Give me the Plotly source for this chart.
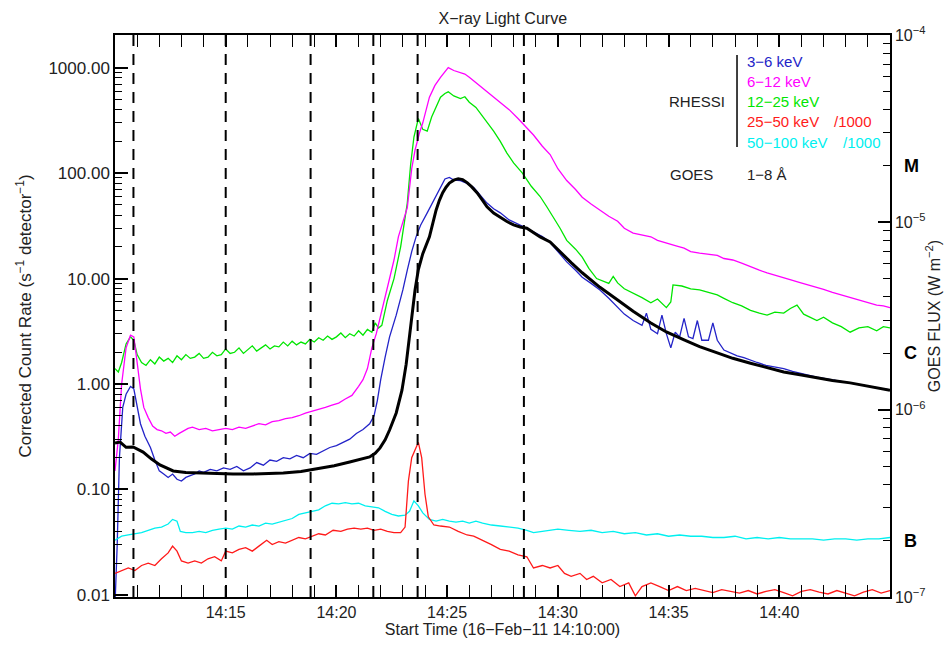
import math
import pandas as pd
import plotly.graph_objects as go

# ---------------- data (minutes after 14:10:00, values) ----------------
START = "2011-02-16 14:10:00"
END = "2011-02-16 14:45:00"

t_blue = [0.0, 0.1, 0.2, 0.35, 0.5, 0.7, 0.85, 1.0, 1.15, 1.35, 1.6, 1.8, 2.0, 2.2, 2.4, 2.6, 2.8, 3.0, 3.2, 3.4,
          3.6, 3.8, 4.0, 4.3, 4.6, 4.9, 5.2, 5.5, 5.8, 6.1, 6.4, 6.7, 7.0, 7.3, 7.6, 7.9, 8.2, 8.5, 8.8, 9.1,
          9.4, 9.7, 10.0, 10.3, 10.6, 10.9, 11.2, 11.5, 11.7, 11.85, 12.0, 12.2, 12.4, 12.7, 13.0, 13.2, 13.4,
          13.6, 13.8, 14.1, 14.4, 14.7, 14.9, 15.1, 15.3, 15.6, 15.9, 16.2, 16.5, 16.8, 17.1, 17.4, 17.8, 18.2,
          18.6, 19.0, 19.3, 19.65, 20.0, 20.4, 20.8, 21.1, 21.5, 21.9, 22.3, 22.7, 23.0, 23.4, 23.8, 24.0, 24.2,
          24.5, 24.7, 24.9, 25.1, 25.3, 25.5, 25.7, 25.9, 26.1, 26.3, 26.5, 26.8, 27.0, 27.2, 27.5, 27.8, 28.1,
          28.4, 28.7, 29.0, 29.4, 29.8, 30.2, 30.6, 31.0, 31.4, 31.7, 32.1, 32.5, 32.9, 33.2, 33.6, 34.0, 34.4,
          34.7, 35.0]
v_blue = [0.008, 0.03, 0.2, 0.6, 0.8, 0.95, 0.9, 0.6, 0.42, 0.32, 0.25, 0.19, 0.15, 0.14, 0.13, 0.14, 0.125, 0.12,
          0.13, 0.135, 0.14, 0.15, 0.145, 0.155, 0.15, 0.16, 0.155, 0.165, 0.15, 0.16, 0.18, 0.17, 0.19, 0.185,
          0.2, 0.195, 0.21, 0.2, 0.22, 0.215, 0.23, 0.25, 0.26, 0.28, 0.3, 0.34, 0.37, 0.42, 0.5, 0.7, 1.1, 1.8,
          2.8, 4.5, 7.8, 12, 18, 25, 32, 42, 55, 72, 88, 91, 86, 85, 80, 73, 62, 52, 46, 42, 36, 33, 30, 27, 25,
          22, 18, 14.4, 12, 10.3, 9, 7.8, 6.5, 5.3, 4.6, 4.0, 3.6, 4.7, 3.3, 3.0, 4.5, 3.0, 2.2, 3.1, 2.8, 4.2,
          2.8, 2.7, 4.0, 2.6, 2.6, 3.8, 2.6, 2.1, 1.97, 1.85, 1.78, 1.7, 1.6, 1.5, 1.45, 1.4, 1.32, 1.25, 1.2,
          1.16, 1.12, 1.08, 1.04, 1.02, 0.98, 0.95, 0.92, 0.9, 0.88]

t_mag = [0.0, 0.15, 0.3, 0.5, 0.7, 0.85, 1.0, 1.15, 1.3, 1.5, 1.7, 1.9, 2.1, 2.3, 2.5, 2.7, 2.9, 3.1, 3.3, 3.5,
         3.8, 4.1, 4.4, 4.7, 5.0, 5.3, 5.6, 5.9, 6.2, 6.5, 6.8, 7.1, 7.4, 7.7, 8.0, 8.3, 8.6, 8.9, 9.2, 9.5,
         9.8, 10.1, 10.4, 10.7, 11.0, 11.2, 11.4, 11.6, 11.8, 12.0, 12.25, 12.6, 12.8, 13.0, 13.2, 13.4, 13.55,
         13.75, 13.9, 14.2, 14.45, 14.7, 14.9, 15.05, 15.3, 15.6, 15.8, 16.0, 16.3, 16.6, 17.0, 17.4, 17.8,
         18.2, 18.6, 18.9, 19.3, 19.65, 20.0, 20.4, 20.8, 21.1, 21.5, 21.9, 22.3, 22.7, 23.0, 23.4, 23.8, 24.2,
         24.5, 24.9, 25.3, 25.7, 26.0, 26.4, 26.8, 27.2, 27.5, 27.9, 28.3, 28.7, 29.1, 29.45, 29.8, 30.2, 30.6,
         30.9, 31.3, 31.7, 32.0, 32.4, 32.8, 33.2, 33.6, 34.0, 34.4, 34.7, 35.0]
v_mag = [0.15, 0.3, 1.0, 2.2, 2.9, 2.8, 1.6, 0.9, 0.6, 0.48, 0.4, 0.37, 0.36, 0.34, 0.35, 0.32, 0.34, 0.36, 0.38,
         0.39, 0.37, 0.38, 0.36, 0.37, 0.38, 0.37, 0.39, 0.38, 0.4, 0.42, 0.41, 0.44, 0.45, 0.47, 0.48, 0.5,
         0.53, 0.55, 0.57, 0.6, 0.63, 0.66, 0.72, 0.78, 0.95, 1.1, 1.4, 2.2, 3.0, 4.5, 7.8, 15, 25, 35, 47,
         110, 165, 240, 300, 525, 680, 810, 920, 1000, 940, 900, 870, 810, 720, 640, 550, 470, 400, 330, 270,
         230, 180, 150, 110, 85, 70, 59, 51, 44.6, 39, 35, 30, 27, 26, 24.9, 23, 21.6, 20.5, 19.4, 18, 17.4,
         17, 16.6, 15.5, 15, 14, 12.9, 12, 11.3, 10.7, 10.1, 9.6, 9.2, 8.7, 8.3, 7.9, 7.4, 7.0, 6.6, 6.2, 5.9,
         5.6, 5.5, 5.3]

t_green = [0.0, 0.15, 0.3, 0.5, 0.7, 0.85, 1.0, 1.2, 1.4, 1.6, 1.8, 2.0, 2.2, 2.4, 2.6, 2.8, 3.0, 3.2, 3.4, 3.6,
           3.8, 4.0, 4.2, 4.4, 4.6, 4.8, 5.0, 5.2, 5.4, 5.6, 5.8, 6.0, 6.2, 6.4, 6.6, 6.8, 7.0, 7.2, 7.4, 7.6,
           7.8, 8.0, 8.2, 8.4, 8.6, 8.8, 9.0, 9.2, 9.4, 9.6, 9.8, 10.0, 10.2, 10.4, 10.6, 10.8, 11.0, 11.2,
           11.4, 11.6, 11.75, 11.9, 12.05, 12.3, 12.6, 12.9, 13.2, 13.35, 13.5, 13.7, 13.9, 14.1, 14.3, 14.5,
           14.7, 14.9, 15.05, 15.3, 15.6, 15.8, 16.0, 16.3, 16.5, 16.8, 17.1, 17.4, 17.7, 18.0, 18.4, 18.8,
           19.2, 19.5, 19.8, 20.1, 20.4, 20.8, 21.1, 21.4, 21.75, 22.0, 22.3, 22.5, 22.7, 23.0, 23.4, 23.8,
           24.2, 24.5, 24.9, 25.1, 25.2, 25.6, 26.0, 26.4, 26.8, 27.2, 27.5, 27.9, 28.3, 28.7, 29.1, 29.45,
           29.8, 30.2, 30.5, 30.8, 31.1, 31.4, 31.7, 32.0, 32.4, 32.8, 33.2, 33.6, 34.0, 34.4, 34.7, 35.0]
v_green = [1.4, 1.3, 1.6, 2.4, 2.8, 2.6, 1.9, 1.6, 1.5, 1.7, 1.55, 1.8, 1.65, 1.75, 1.6, 1.85, 1.7, 1.9, 1.75,
           1.8, 1.95, 1.75, 1.8, 2.0, 1.85, 1.9, 2.15, 1.95, 2.0, 2.2, 1.95, 2.1, 2.3, 2.05, 2.2, 2.35, 2.15,
           2.3, 2.25, 2.5, 2.3, 2.55, 2.35, 2.5, 2.4, 2.65, 2.5, 2.75, 2.6, 2.85, 2.65, 2.8, 3.05, 2.75, 3.0,
           2.85, 3.2, 2.9, 3.3, 3.1, 3.8, 3.4, 3.6, 6.2, 10, 20, 52, 120, 220, 330, 260, 250, 340, 430, 525, 570,
           590, 540, 510, 530, 470, 420, 370, 310, 250, 200, 155, 125, 100, 75, 60, 48, 38, 30, 23, 19, 16,
           12.5, 10, 9.5, 9.0, 10.5, 9.1, 8.0, 7.3, 6.6, 5.9, 6.4, 5.3, 6.0, 8.7, 8.5, 8.0, 7.8, 7.4, 7.0, 6.5,
           5.9, 5.5, 5.0, 4.7, 4.5, 4.8, 4.7, 5.2, 5.6, 4.6, 4.3, 4.0, 4.3, 3.8, 3.5, 3.1, 3.4, 3.5, 3.2, 3.5,
           3.4]

t_red = [0.0, 0.3, 0.6, 0.9, 1.2, 1.5, 1.8, 2.1, 2.4, 2.6, 2.8, 3.0, 3.3, 3.6, 3.9, 4.2, 4.5, 4.8, 5.0, 5.3,
         5.6, 5.9, 6.2, 6.5, 6.85, 7.1, 7.4, 7.7, 8.0, 8.3, 8.6, 8.9, 9.2, 9.5, 9.85, 10.2, 10.5, 10.8, 11.1,
         11.4, 11.7, 12.0, 12.3, 12.6, 12.9, 13.1, 13.25, 13.4, 13.55, 13.7, 13.85, 14.0, 14.15, 14.4, 14.7,
         15.1, 15.5, 15.9, 16.2, 16.6, 17.0, 17.4, 17.8, 18.2, 18.6, 18.9, 19.3, 19.65, 20.0, 20.3, 20.6,
         21.0, 21.3, 21.6, 22.0, 22.4, 22.8, 23.2, 23.5, 23.8, 24.2, 24.6, 25.0, 25.4, 25.8, 26.2, 26.6,
         27.0, 27.4, 27.8, 28.2, 28.6, 29.0, 29.4, 29.8, 30.2, 30.6, 31.0, 31.4, 31.8, 32.2, 32.6, 33.0,
         33.4, 33.8, 34.2, 34.6, 35.0]
v_red = [0.016, 0.017, 0.018, 0.017, 0.019, 0.02, 0.019, 0.022, 0.025, 0.029, 0.026, 0.021, 0.02, 0.021, 0.02,
         0.022, 0.023, 0.021, 0.026, 0.025, 0.027, 0.028, 0.026, 0.029, 0.033, 0.03, 0.032, 0.031, 0.033,
         0.035, 0.034, 0.036, 0.038, 0.037, 0.041, 0.04, 0.042, 0.043, 0.042, 0.043, 0.041, 0.042, 0.04,
         0.039, 0.039, 0.044, 0.12, 0.2, 0.24, 0.28, 0.2, 0.09, 0.055, 0.046, 0.045, 0.044, 0.04, 0.037,
         0.036, 0.033, 0.03, 0.027, 0.026, 0.024, 0.023, 0.018, 0.019, 0.018, 0.019, 0.016, 0.015, 0.016,
         0.014, 0.015, 0.013, 0.014, 0.012, 0.013, 0.0098, 0.012, 0.013, 0.012, 0.011, 0.012, 0.011, 0.0115,
         0.011, 0.0105, 0.0112, 0.0108, 0.0104, 0.011, 0.0102, 0.0108, 0.0112, 0.0105, 0.0098, 0.0108,
         0.0112, 0.0106, 0.0102, 0.011, 0.0104, 0.0098, 0.0106, 0.0112, 0.0104, 0.011]

t_cyan = [0.0, 0.3, 0.6, 0.9, 1.2, 1.5, 1.8, 2.1, 2.4, 2.6, 2.8, 2.95, 3.2, 3.5, 3.8, 4.1, 4.4, 4.7, 5.0, 5.3,
          5.6, 5.9, 6.2, 6.5, 6.8, 7.1, 7.4, 7.7, 8.0, 8.3, 8.6, 8.9, 9.2, 9.5, 9.8, 10.1, 10.4, 10.7, 11.0,
          11.3, 11.6, 11.9, 12.2, 12.5, 12.8, 13.1, 13.3, 13.5, 13.7, 13.9, 14.2, 14.5, 14.8, 15.1, 15.4, 15.7,
          16.0, 16.3, 16.6, 17.0, 17.4, 17.8, 18.2, 18.6, 18.9, 19.3, 19.65, 20.0, 20.5, 21.0, 21.5, 22.0,
          22.5, 23.0, 23.5, 24.0, 24.5, 25.0, 25.5, 26.0, 26.5, 27.0, 27.5, 28.0, 28.5, 29.0, 29.5, 30.0,
          30.5, 31.0, 31.5, 32.0, 32.5, 33.0, 33.5, 34.0, 34.5, 35.0]
v_cyan = [0.033, 0.036, 0.037, 0.038, 0.039, 0.041, 0.043, 0.044, 0.047, 0.052, 0.05, 0.04, 0.039, 0.039, 0.04,
          0.039, 0.041, 0.042, 0.043, 0.042, 0.045, 0.044, 0.046, 0.045, 0.048, 0.047, 0.049, 0.051, 0.053,
          0.058, 0.06, 0.062, 0.064, 0.07, 0.074, 0.073, 0.075, 0.073, 0.074, 0.07, 0.068, 0.067, 0.062,
          0.058, 0.056, 0.057, 0.062, 0.078, 0.07, 0.06, 0.052, 0.05, 0.052, 0.05, 0.049, 0.05, 0.048, 0.05,
          0.048, 0.046, 0.045, 0.044, 0.043, 0.041, 0.039, 0.04, 0.041, 0.042, 0.041, 0.04, 0.041, 0.039,
          0.04, 0.038, 0.039, 0.037, 0.038, 0.036, 0.037, 0.036, 0.036, 0.035, 0.035, 0.036, 0.034, 0.035,
          0.034, 0.035, 0.034, 0.034, 0.034, 0.033, 0.034, 0.034, 0.033, 0.034, 0.034, 0.035]

t_goes = [0.0, 0.23, 0.5, 0.82, 1.27, 1.65, 2.03, 2.63, 3.2, 3.84, 4.6, 5.33, 6.25, 7.6, 8.4, 9.1, 9.9, 10.6,
          11.1, 11.5, 11.75, 11.97, 12.2, 12.4, 12.7, 12.96, 13.15, 13.3, 13.45, 13.55, 13.7, 13.9, 14.2, 14.35,
          14.5, 14.65, 14.8, 14.95, 15.1, 15.3, 15.5, 15.7, 15.9, 16.1, 16.35, 16.6, 16.8, 17.1, 17.4, 17.7, 18.0,
          18.3, 18.6, 18.9, 19.2, 19.65, 20.1, 20.6, 21.1, 21.9, 22.7, 23.4, 24.2, 24.9, 25.7, 26.4, 27.2,
          27.9, 28.7, 29.4, 30.2, 31.0, 31.7, 32.4, 33.2, 34.1, 35.0]
v_goes = [6.64e-7, 6.72e-7, 6.3e-7, 6.32e-7, 5.94e-7, 5.45e-7, 5.07e-7, 4.71e-7, 4.62e-7, 4.59e-7, 4.55e-7,
          4.54e-7, 4.54e-7, 4.59e-7, 4.68e-7, 4.82e-7, 5.02e-7, 5.26e-7, 5.42e-7, 5.59e-7, 5.85e-7, 6.25e-7,
          6.9e-7, 7.79e-7, 9.6e-7, 1.27e-6, 1.75e-6, 2.44e-6, 3.3e-6, 4.35e-6, 5.6e-6, 6.8e-6, 8.36e-6,
          9.8e-6, 1.16e-5, 1.31e-5, 1.44e-5, 1.54e-5, 1.62e-5, 1.68e-5, 1.71e-5, 1.69e-5, 1.63e-5, 1.55e-5,
          1.44e-5, 1.31e-5, 1.21e-5, 1.12e-5, 1.06e-5, 1.01e-5, 9.7e-6, 9.45e-6, 9.3e-6, 8.85e-6, 8.36e-6,
          7.85e-6, 6.95e-6, 6.1e-6, 5.38e-6, 4.5e-6, 3.85e-6, 3.35e-6, 2.9e-6, 2.6e-6, 2.36e-6, 2.17e-6,
          2.01e-6, 1.88e-6, 1.77e-6, 1.68e-6, 1.59e-6, 1.53e-6, 1.48e-6, 1.43e-6, 1.39e-6, 1.33e-6, 1.27e-6]

dash_times = ["14:10:50", "14:15:00", "14:18:50", "14:21:40", "14:23:40", "14:28:28"]
x_tick_labels = ["14:15", "14:20", "14:25", "14:30", "14:35", "14:40"]
left_tick_vals = [1000, 100, 10, 1, 0.1, 0.01]
left_tick_text = ["1000.00", "100.00", "10.00", "1.00", "0.10", "0.01"]
right_tick_vals = [1e-4, 1e-5, 1e-6, 1e-7]
right_tick_text = ["10<sup>−4</sup>", "10<sup>−5</sup>", "10<sup>−6</sup>", "10<sup>−7</sup>"]
goes_classes = ["M", "C", "B"]
goes_class_levels = [2e-5, 2e-6, 2e-7]

bands = ["3−6 keV", "6−12 keV", "12−25 keV", "25−50 keV", "50−100 keV"]
band_suffix = ["", "", "", "/1000", "/1000"]
colors = ["#2323c8", "#ff00ff", "#00e600", "#ff1a1a", "#00f0f0"]

# ---------------- figure ----------------
base = pd.Timestamp(START)


def tt(mins):
    return base + pd.to_timedelta(mins, unit="m")


FONT = "Liberation Sans, Arial, Helvetica, sans-serif"
TXT = "#222222"
fig = go.Figure()

series = [(t_blue, v_blue), (t_mag, v_mag), (t_green, v_green), (t_red, v_red), (t_cyan, v_cyan)]
order = [2, 1, 0, 4, 3]
for i in order:
    t, v = series[i]
    fig.add_trace(go.Scatter(x=tt(t), y=v, mode="lines", line=dict(color=colors[i], width=1.3),
                             showlegend=False, hoverinfo="skip"))

fig.add_trace(go.Scatter(x=tt(t_goes), y=v_goes, mode="lines", yaxis="y2",
                         line=dict(color="black", width=3),
                         showlegend=False, hoverinfo="skip"))

day = "2011-02-16 "
for d in dash_times:
    fig.add_shape(type="line", xref="x", yref="paper", x0=day + d, x1=day + d, y0=0, y1=1,
                  line=dict(color="black", width=2, dash="11px,8px"), layer="above")

# legend block
L0 = 0.8129
LF = 15
fig.add_annotation(text="RHESSI", xref="paper", yref="paper", x=0.7897, y=0.8808, xanchor="right",
                   yanchor="middle", showarrow=False, font=dict(family=FONT, size=LF, color=TXT))
fig.add_shape(type="line", xref="paper", yref="paper", x0=0.8026, x1=0.8026, y0=0.8007, y1=0.9644,
              line=dict(color="black", width=1.5))
ys = [0.952, 0.9164, 0.8808, 0.8452, 0.8096]
sx = [None, None, None, 0.9252, 0.9368]
for i, b in enumerate(bands):
    fig.add_annotation(text=b, xref="paper", yref="paper", x=L0, y=ys[i], xanchor="left", yanchor="middle",
                       showarrow=False, font=dict(family=FONT, size=LF, color=colors[i]))
    if band_suffix[i]:
        fig.add_annotation(text=band_suffix[i], xref="paper", yref="paper", x=sx[i], y=ys[i], xanchor="left",
                           yanchor="middle", showarrow=False, font=dict(family=FONT, size=LF, color=colors[i]))
fig.add_annotation(text="GOES", xref="paper", yref="paper", x=0.7135, y=0.7509, xanchor="left", yanchor="middle",
                   showarrow=False, font=dict(family=FONT, size=LF, color=TXT))
fig.add_annotation(text="1−8 Å", xref="paper", yref="paper", x=L0, y=0.7509, xanchor="left", yanchor="middle",
                   showarrow=False, font=dict(family=FONT, size=LF, color=TXT))

for c, lv in zip(goes_classes, goes_class_levels):
    fig.add_annotation(text="<b>" + c + "</b>", xref="paper", yref="y2", x=1.016, y=math.log10(lv),
                       xanchor="left", yanchor="middle", showarrow=False,
                       font=dict(family=FONT, size=18, color="black"))

axis_common = dict(showline=True, linecolor="black", linewidth=1.5, ticks="inside", tickcolor="black",
                   showgrid=False, zeroline=False, automargin=False)

fig.update_layout(
    width=946, height=647,
    margin=dict(l=115, r=56, t=35, b=50),
    paper_bgcolor="white", plot_bgcolor="white",
    font=dict(family=FONT, size=16, color=TXT),
    title=dict(text="X−ray Light Curve", x=0.5315, xanchor="center", y=0.972, yanchor="middle",
               font=dict(family=FONT, size=16, color=TXT)),
    xaxis=dict(type="date", range=[START, END], mirror="allticks", ticklen=12, tickwidth=1.5,
               tickvals=[day + s + ":00" for s in x_tick_labels], ticktext=x_tick_labels,
               tickfont=dict(size=16),
               minor=dict(ticks="inside", ticklen=6, tickwidth=1.2, tickcolor="black",
                          dtick=60000, tick0=START),
               title=dict(text="Start Time (16−Feb−11 14:10:00)", standoff=3, font=dict(size=16)),
               **axis_common),
    yaxis=dict(type="log", range=[-2.02, 3.31], tickvals=left_tick_vals, ticktext=left_tick_text,
               ticklen=13, tickwidth=1.5, tickfont=dict(size=17),
               minor=dict(ticks="inside", ticklen=7, tickwidth=1.2, tickcolor="black", dtick="D1"),
               title=dict(text="Corrected Count Rate (s<sup>−1</sup> detector<sup>−1</sup>)", standoff=12,
                          font=dict(size=17)),
               **axis_common),
    yaxis2=dict(type="log", range=[-7, -4], overlaying="y", side="right", tickvals=right_tick_vals,
                ticktext=right_tick_text, ticklen=12, tickwidth=1.5, tickfont=dict(size=16),
                minor=dict(ticks="inside", ticklen=7, tickwidth=1.2, tickcolor="black", dtick="D1"),
                title=dict(text="GOES FLUX (W m<sup>−2</sup>)", standoff=4, font=dict(size=16)),
                **axis_common),
)

fig.write_html("out.html")
